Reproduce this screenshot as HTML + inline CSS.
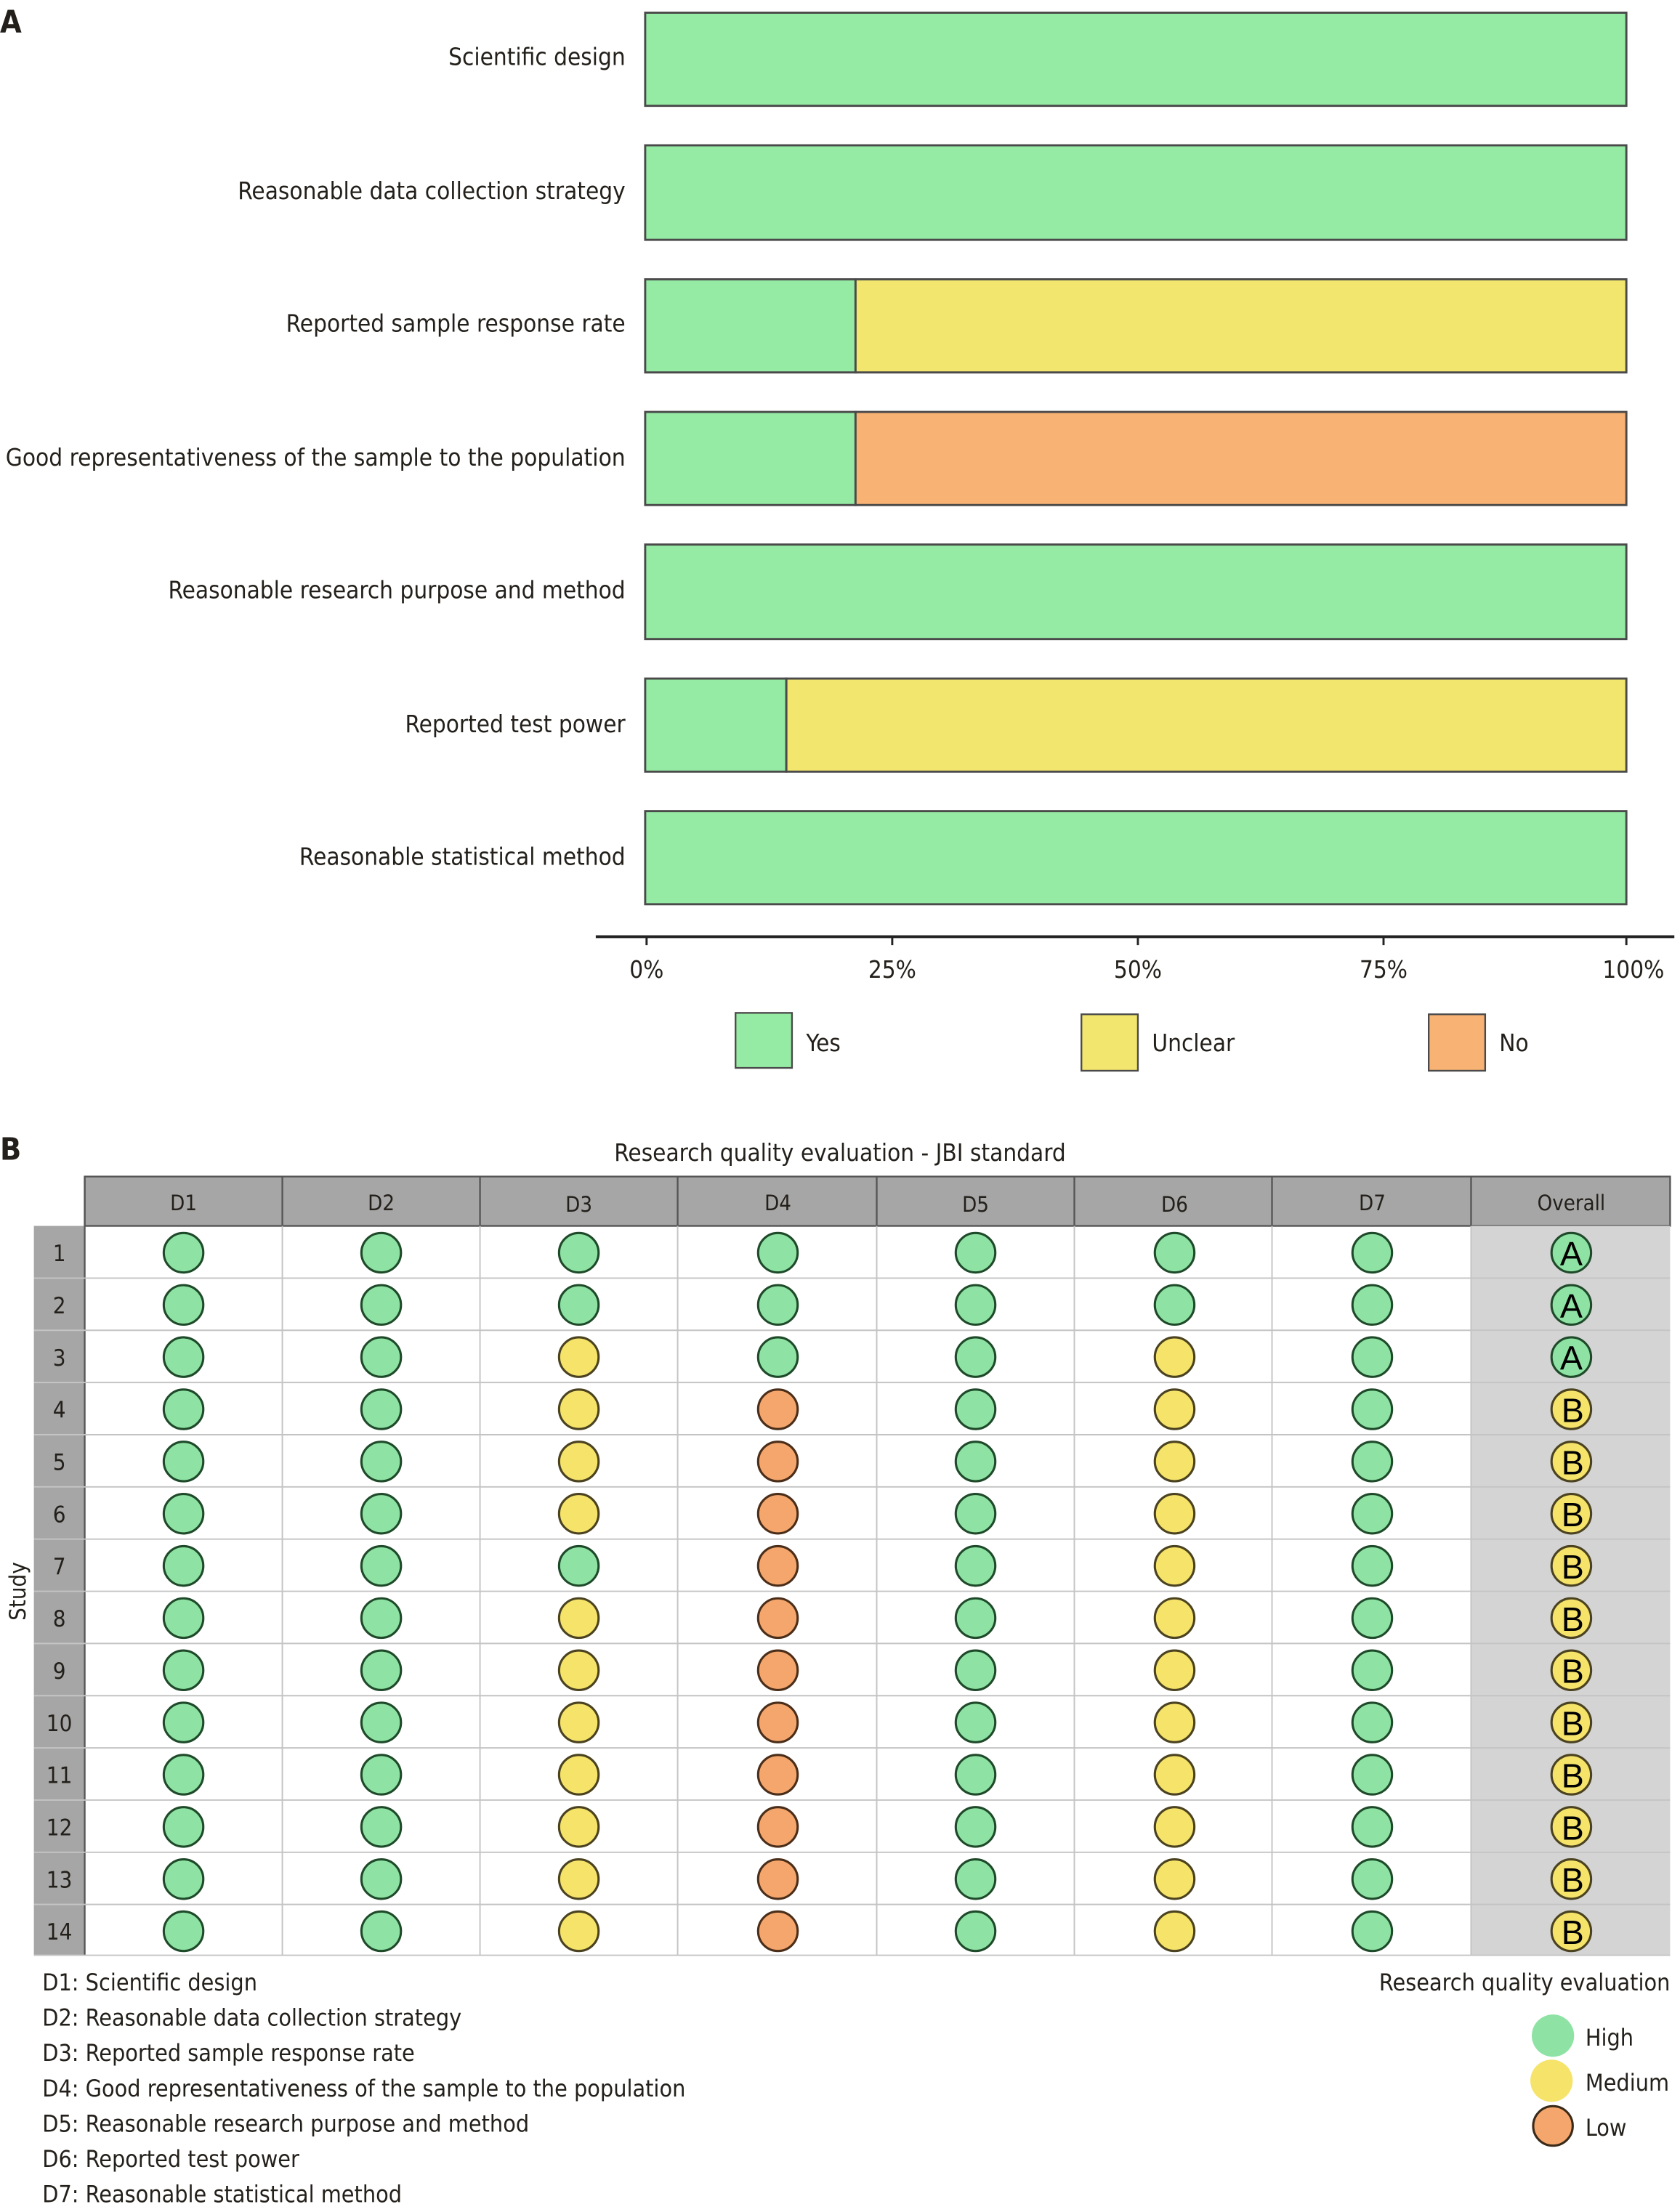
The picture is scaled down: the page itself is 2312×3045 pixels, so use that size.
<!DOCTYPE html>
<html><head><meta charset="utf-8"><style>
html,body{margin:0;padding:0;background:#fff}
svg{display:block}
text{font-family:"DejaVu Sans Condensed","DejaVu Sans","Liberation Sans",sans-serif;fill:#231f1a}
</style></head><body>
<svg width="2312" height="3045" viewBox="0 0 1190 1568" preserveAspectRatio="none" xmlns="http://www.w3.org/2000/svg">
<defs>
<circle id="g" r="14" fill="#8ee3a4" stroke="#1f4a2a" stroke-width="1.6"/>
<circle id="y" r="14" fill="#f5e36a" stroke="#4a4220" stroke-width="1.6"/>
<circle id="o" r="14" fill="#f5a66c" stroke="#4a2e1a" stroke-width="1.6"/>
</defs>
<!-- Panel A -->
<text x="0" y="23" font-size="22" font-weight="bold">A</text>
<g stroke="#4a4a4a" stroke-width="1.5">
<rect x="457" y="9" width="695" height="66" fill="#95eaa4"/>
<rect x="457" y="103" width="695" height="67" fill="#95eaa4"/>
<rect x="457" y="198" width="149" height="66" fill="#95eaa4"/>
<rect x="606" y="198" width="546" height="66" fill="#f3e66e"/>
<rect x="457" y="292" width="149" height="66" fill="#95eaa4"/>
<rect x="606" y="292" width="546" height="66" fill="#f8b273"/>
<rect x="457" y="386" width="695" height="67" fill="#95eaa4"/>
<rect x="457" y="481" width="100" height="66" fill="#95eaa4"/>
<rect x="557" y="481" width="595" height="66" fill="#f3e66e"/>
<rect x="457" y="575" width="695" height="66" fill="#95eaa4"/>
</g>
<g font-size="17" text-anchor="end">
<text x="443" y="46">Scientific design</text>
<text x="443" y="141">Reasonable data collection strategy</text>
<text x="443" y="235">Reported sample response rate</text>
<text x="443" y="330" textLength="439" lengthAdjust="spacingAndGlyphs">Good representativeness of the sample to the population</text>
<text x="443" y="424">Reasonable research purpose and method</text>
<text x="443" y="519">Reported test power</text>
<text x="443" y="613">Reasonable statistical method</text>
</g>
<line x1="422" y1="664" x2="1186" y2="664" stroke="#222" stroke-width="2"/>
<g stroke="#222" stroke-width="1.5">
<line x1="458" y1="664" x2="458" y2="670"/><line x1="632" y1="664" x2="632" y2="670"/><line x1="806" y1="664" x2="806" y2="670"/><line x1="980" y1="664" x2="980" y2="670"/><line x1="1152" y1="664" x2="1152" y2="670"/>
</g>
<g font-size="17" text-anchor="middle">
<text x="458" y="693">0%</text><text x="632" y="693">25%</text><text x="806" y="693">50%</text><text x="980" y="693">75%</text><text x="1157" y="693">100%</text>
</g>
<g stroke="#4a4a4a" stroke-width="1.2">
<rect x="521" y="718" width="40" height="39" fill="#95eaa4"/>
<rect x="766" y="719" width="40" height="40" fill="#f3e66e"/>
<rect x="1012" y="719" width="40" height="40" fill="#f8b273"/>
</g>
<g font-size="17">
<text x="571" y="745">Yes</text><text x="816" y="745">Unclear</text><text x="1062" y="745">No</text>
</g>
<!-- Panel B -->
<text x="0" y="822" font-size="22" font-weight="bold">B</text>
<text x="595" y="823" font-size="17" text-anchor="middle">Research quality evaluation - JBI standard</text>
<rect x="60" y="834" width="1123" height="35" fill="#a6a6a6" stroke="#555" stroke-width="1.2"/>
<rect x="24" y="869" width="36" height="517" fill="#a6a6a6"/>
<rect x="1042" y="869" width="141" height="517" fill="#d4d4d4"/>
<g stroke="#555" stroke-width="1.2">
<line x1="200" y1="834" x2="200" y2="869"/><line x1="340" y1="834" x2="340" y2="869"/><line x1="480" y1="834" x2="480" y2="869"/><line x1="621" y1="834" x2="621" y2="869"/><line x1="761" y1="834" x2="761" y2="869"/><line x1="901" y1="834" x2="901" y2="869"/><line x1="1042" y1="834" x2="1042" y2="869"/>
<line x1="60" y1="834" x2="60" y2="1386"/>
</g>
<g stroke="#c4c4c4" stroke-width="1">
<line x1="200" y1="869" x2="200" y2="1386"/><line x1="340" y1="869" x2="340" y2="1386"/><line x1="480" y1="869" x2="480" y2="1386"/><line x1="621" y1="869" x2="621" y2="1386"/><line x1="761" y1="869" x2="761" y2="1386"/><line x1="901" y1="869" x2="901" y2="1386"/><line x1="1042" y1="869" x2="1042" y2="1386"/>
<line x1="24" y1="906" x2="1183" y2="906"/><line x1="24" y1="943" x2="1183" y2="943"/><line x1="24" y1="980" x2="1183" y2="980"/><line x1="24" y1="1017" x2="1183" y2="1017"/><line x1="24" y1="1054" x2="1183" y2="1054"/><line x1="24" y1="1091" x2="1183" y2="1091"/><line x1="24" y1="1128" x2="1183" y2="1128"/><line x1="24" y1="1165" x2="1183" y2="1165"/><line x1="24" y1="1202" x2="1183" y2="1202"/><line x1="24" y1="1239" x2="1183" y2="1239"/><line x1="24" y1="1276" x2="1183" y2="1276"/><line x1="24" y1="1313" x2="1183" y2="1313"/><line x1="24" y1="1350" x2="1183" y2="1350"/><line x1="24" y1="1386" x2="1183" y2="1386"/>
</g>
<g font-size="15" text-anchor="middle" style="fill:#333">
<text x="130" y="858">D1</text><text x="270" y="858">D2</text><text x="410" y="859">D3</text><text x="551" y="858">D4</text><text x="691" y="859">D5</text><text x="832" y="859">D6</text><text x="972" y="858">D7</text><text x="1113" y="858">Overall</text>
</g>
<g font-size="16" text-anchor="middle">
<text x="42" y="894">1</text><text x="42" y="931">2</text><text x="42" y="968">3</text><text x="42" y="1005">4</text><text x="42" y="1042">5</text><text x="42" y="1079">6</text><text x="42" y="1116">7</text><text x="42" y="1153">8</text><text x="42" y="1190">9</text><text x="42" y="1227">10</text><text x="42" y="1264">11</text><text x="42" y="1301">12</text><text x="42" y="1338">13</text><text x="42" y="1375">14</text>
</g>
<text x="0" y="0" font-size="16" text-anchor="middle" transform="translate(18,1128) rotate(-90)">Study</text>
<g>
<use href="#g" x="130" y="888"/><use href="#g" x="270" y="888"/><use href="#g" x="410" y="888"/><use href="#g" x="551" y="888"/><use href="#g" x="691" y="888"/><use href="#g" x="832" y="888"/><use href="#g" x="972" y="888"/><use href="#g" x="1113" y="888"/>
<use href="#g" x="130" y="925"/><use href="#g" x="270" y="925"/><use href="#g" x="410" y="925"/><use href="#g" x="551" y="925"/><use href="#g" x="691" y="925"/><use href="#g" x="832" y="925"/><use href="#g" x="972" y="925"/><use href="#g" x="1113" y="925"/>
<use href="#g" x="130" y="962"/><use href="#g" x="270" y="962"/><use href="#y" x="410" y="962"/><use href="#g" x="551" y="962"/><use href="#g" x="691" y="962"/><use href="#y" x="832" y="962"/><use href="#g" x="972" y="962"/><use href="#g" x="1113" y="962"/>
<use href="#g" x="130" y="999"/><use href="#g" x="270" y="999"/><use href="#y" x="410" y="999"/><use href="#o" x="551" y="999"/><use href="#g" x="691" y="999"/><use href="#y" x="832" y="999"/><use href="#g" x="972" y="999"/><use href="#y" x="1113" y="999"/>
<use href="#g" x="130" y="1036"/><use href="#g" x="270" y="1036"/><use href="#y" x="410" y="1036"/><use href="#o" x="551" y="1036"/><use href="#g" x="691" y="1036"/><use href="#y" x="832" y="1036"/><use href="#g" x="972" y="1036"/><use href="#y" x="1113" y="1036"/>
<use href="#g" x="130" y="1073"/><use href="#g" x="270" y="1073"/><use href="#y" x="410" y="1073"/><use href="#o" x="551" y="1073"/><use href="#g" x="691" y="1073"/><use href="#y" x="832" y="1073"/><use href="#g" x="972" y="1073"/><use href="#y" x="1113" y="1073"/>
<use href="#g" x="130" y="1110"/><use href="#g" x="270" y="1110"/><use href="#g" x="410" y="1110"/><use href="#o" x="551" y="1110"/><use href="#g" x="691" y="1110"/><use href="#y" x="832" y="1110"/><use href="#g" x="972" y="1110"/><use href="#y" x="1113" y="1110"/>
<use href="#g" x="130" y="1147"/><use href="#g" x="270" y="1147"/><use href="#y" x="410" y="1147"/><use href="#o" x="551" y="1147"/><use href="#g" x="691" y="1147"/><use href="#y" x="832" y="1147"/><use href="#g" x="972" y="1147"/><use href="#y" x="1113" y="1147"/>
<use href="#g" x="130" y="1184"/><use href="#g" x="270" y="1184"/><use href="#y" x="410" y="1184"/><use href="#o" x="551" y="1184"/><use href="#g" x="691" y="1184"/><use href="#y" x="832" y="1184"/><use href="#g" x="972" y="1184"/><use href="#y" x="1113" y="1184"/>
<use href="#g" x="130" y="1221"/><use href="#g" x="270" y="1221"/><use href="#y" x="410" y="1221"/><use href="#o" x="551" y="1221"/><use href="#g" x="691" y="1221"/><use href="#y" x="832" y="1221"/><use href="#g" x="972" y="1221"/><use href="#y" x="1113" y="1221"/>
<use href="#g" x="130" y="1258"/><use href="#g" x="270" y="1258"/><use href="#y" x="410" y="1258"/><use href="#o" x="551" y="1258"/><use href="#g" x="691" y="1258"/><use href="#y" x="832" y="1258"/><use href="#g" x="972" y="1258"/><use href="#y" x="1113" y="1258"/>
<use href="#g" x="130" y="1295"/><use href="#g" x="270" y="1295"/><use href="#y" x="410" y="1295"/><use href="#o" x="551" y="1295"/><use href="#g" x="691" y="1295"/><use href="#y" x="832" y="1295"/><use href="#g" x="972" y="1295"/><use href="#y" x="1113" y="1295"/>
<use href="#g" x="130" y="1332"/><use href="#g" x="270" y="1332"/><use href="#y" x="410" y="1332"/><use href="#o" x="551" y="1332"/><use href="#g" x="691" y="1332"/><use href="#y" x="832" y="1332"/><use href="#g" x="972" y="1332"/><use href="#y" x="1113" y="1332"/>
<use href="#g" x="130" y="1369"/><use href="#g" x="270" y="1369"/><use href="#y" x="410" y="1369"/><use href="#o" x="551" y="1369"/><use href="#g" x="691" y="1369"/><use href="#y" x="832" y="1369"/><use href="#g" x="972" y="1369"/><use href="#y" x="1113" y="1369"/>
</g>
<g font-size="24" text-anchor="middle">
<text x="1113" y="897" style="font-family:'Liberation Sans',sans-serif;fill:#000">A</text><text x="1113" y="934" style="font-family:'Liberation Sans',sans-serif;fill:#000">A</text><text x="1113" y="971" style="font-family:'Liberation Sans',sans-serif;fill:#000">A</text>
<text x="1114" y="1008" style="font-family:'Liberation Sans',sans-serif;fill:#000">B</text><text x="1114" y="1045" style="font-family:'Liberation Sans',sans-serif;fill:#000">B</text><text x="1114" y="1082" style="font-family:'Liberation Sans',sans-serif;fill:#000">B</text><text x="1114" y="1119" style="font-family:'Liberation Sans',sans-serif;fill:#000">B</text><text x="1114" y="1156" style="font-family:'Liberation Sans',sans-serif;fill:#000">B</text><text x="1114" y="1193" style="font-family:'Liberation Sans',sans-serif;fill:#000">B</text><text x="1114" y="1230" style="font-family:'Liberation Sans',sans-serif;fill:#000">B</text><text x="1114" y="1267" style="font-family:'Liberation Sans',sans-serif;fill:#000">B</text><text x="1114" y="1304" style="font-family:'Liberation Sans',sans-serif;fill:#000">B</text><text x="1114" y="1341" style="font-family:'Liberation Sans',sans-serif;fill:#000">B</text><text x="1114" y="1378" style="font-family:'Liberation Sans',sans-serif;fill:#000">B</text>
</g>
<g font-size="16.5">
<text x="30" y="1411">D1: Scientific design</text>
<text x="30" y="1436">D2: Reasonable data collection strategy</text>
<text x="30" y="1461">D3: Reported sample response rate</text>
<text x="30" y="1486">D4: Good representativeness of the sample to the population</text>
<text x="30" y="1511">D5: Reasonable research purpose and method</text>
<text x="30" y="1536">D6: Reported test power</text>
<text x="30" y="1561">D7: Reasonable statistical method</text>
<text x="1183" y="1411" text-anchor="end">Research quality evaluation</text>
<text x="1123" y="1450">High</text>
<text x="1123" y="1482">Medium</text>
<text x="1123" y="1514">Low</text>
</g>
<circle cx="1100" cy="1443" r="15" fill="#8ee3a4"/>
<circle cx="1099" cy="1475" r="15" fill="#f5e36a"/>
<circle cx="1100" cy="1507" r="14" fill="#f5a66c" stroke="#3a2a1a" stroke-width="1.6"/>
</svg>
</body></html>
